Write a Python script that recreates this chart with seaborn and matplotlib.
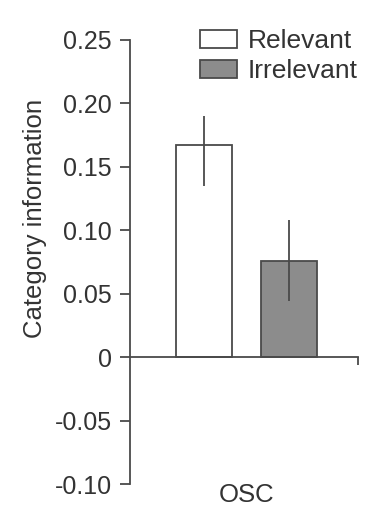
import matplotlib
matplotlib.use('Agg')
import matplotlib.pyplot as plt
import seaborn as sns
import pandas as pd

# values
groups = ['OSC', 'OSC']
conditions = ['Relevant', 'Irrelevant']
means = [0.167, 0.076]
err_low = [0.135, 0.044]
err_high = [0.190, 0.108]
y_ticks = [-0.10, -0.05, 0, 0.05, 0.10, 0.15, 0.20, 0.25]
y_tick_labels = ['-0.10', '-0.05', '0', '0.05', '0.10', '0.15', '0.20', '0.25']

TEXT = '#333333'
LINE = '#4a4a4a'

sns.set_style('white')
plt.rcParams['font.family'] = ['Liberation Sans', 'DejaVu Sans']

df = pd.DataFrame({'group': groups, 'condition': conditions, 'value': means})

fig = plt.figure(figsize=(3.88, 5.32), dpi=100)
ax = fig.add_axes([130 / 388, 1 - 484 / 532, 228 / 388, 444 / 532])

sns.barplot(data=df, x='group', y='value', hue='condition',
            hue_order=conditions,
            palette={'Relevant': 'white', 'Irrelevant': '#8c8c8c'},
            edgecolor=LINE, linewidth=1.3, gap=0.34, errorbar=None,
            ax=ax)

# error bars (no caps) centred on each bar
for cont, lo, hi in zip(ax.containers, err_low, err_high):
    bar = cont.patches[0]
    cx = bar.get_x() + bar.get_width() / 2
    ax.vlines(cx, lo, hi, color=LINE, linewidth=1.3, zorder=3)

ax.set_xlim(-0.548, 0.525)
ax.set_ylim(-0.10, 0.25)

# axes styling
for side in ['top', 'right']:
    ax.spines[side].set_visible(False)
ax.spines['bottom'].set_position(('data', 0))
for side in ['left', 'bottom']:
    ax.spines[side].set_color(LINE)
    ax.spines[side].set_linewidth(1.3)

ax.set_yticks(y_ticks)
ax.set_yticklabels(y_tick_labels)
ax.tick_params(axis='y', left=True, direction='out', length=7, width=1.3,
               color=LINE, labelsize=18, labelcolor=TEXT, pad=6)
ax.set_xticks([0.525])
ax.set_xticklabels([''])
ax.tick_params(axis='x', bottom=True, direction='out', length=6, width=1.3,
               color=LINE)

ax.set_xlabel('')
ax.set_ylabel('Category information', fontsize=18.5, color=TEXT)
ax.yaxis.set_label_coords(-0.364, 0.597)

ax.text(0, -0.109, 'OSC', ha='center', va='center', fontsize=18.5,
        color=TEXT, clip_on=False)

handles, labels = ax.get_legend_handles_labels()
ax.legend(handles, labels, loc='upper left',
          bbox_to_anchor=(200 / 388, 1 - 29 / 532),
          bbox_transform=fig.transFigure, frameon=False, borderpad=0,
          borderaxespad=0, handlelength=1.4, handleheight=0.68,
          handletextpad=0.42, labelspacing=0.23, fontsize=19,
          labelcolor=TEXT)

fig.savefig('out.png', dpi=100, facecolor='white')
